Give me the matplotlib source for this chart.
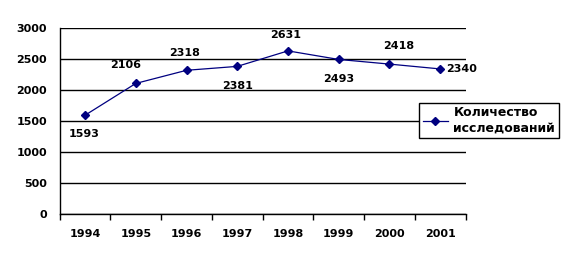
import matplotlib
matplotlib.use("Agg")
import matplotlib.pyplot as plt
from matplotlib.ticker import FixedLocator

years = ["1994", "1995", "1996", "1997", "1998", "1999", "2000", "2001"]
values = [1593, 2106, 2318, 2381, 2631, 2493, 2418, 2340]
series_name = "Количество\nисследований"
yticks = [0, 500, 1000, 1500, 2000, 2500, 3000]

# label offsets in pixels (dx, dy; dy positive = up)
label_offsets = [(-1, -19), (-10, 18), (-2, 17), (0, -20), (-2, 16), (0, -20), (9, 18), (21, 0)]

plt.rcParams['font.family'] = ['DejaVu Sans']
FS = 8

fig = plt.figure(figsize=(5.75, 2.64), dpi=100)
ax = fig.add_axes([0.1038, 0.1894, 0.7058, 0.7045])

x = list(range(len(years)))
line, = ax.plot(x, values, color="#000080", lw=0.9, marker="D", ms=4,
                mfc="#000080", mec="#000080", label=series_name, zorder=3)

for xi, v, (dx, dy) in zip(x, values, label_offsets):
    ax.annotate(str(v), (xi, v), xytext=(dx, dy), textcoords="offset pixels",
                ha="center", va="center", fontsize=FS, fontweight="bold", color="black")

ax.set_xlim(-0.5, len(years) - 0.5)
ax.set_ylim(0, 3000)
ax.set_yticks(yticks)
ax.set_yticklabels([str(t) for t in yticks], fontsize=FS, fontweight="bold")
ax.set_xticks(x)
ax.set_xticklabels(years, fontsize=FS, fontweight="bold")
ax.xaxis.set_minor_locator(FixedLocator([i - 0.5 for i in range(len(years) + 1)]))
ax.tick_params(axis="x", which="major", length=0, pad=11)
ax.tick_params(axis="x", which="minor", length=4, width=1, color="black")
ax.tick_params(axis="y", length=0, pad=9)

ax.grid(axis="y", color="black", lw=1)
ax.set_axisbelow(True)
for s in ["top", "right"]:
    ax.spines[s].set_visible(False)
ax.spines["left"].set_linewidth(1)
ax.spines["bottom"].set_linewidth(1)

leg = fig.legend(handles=[line], loc="center left", bbox_to_anchor=(0.7287, 0.5436),
                 frameon=True, fancybox=False, edgecolor="black", framealpha=1,
                 borderaxespad=0, handlelength=2.0, handletextpad=0.45,
                 borderpad=0.3, prop={"size": 9, "weight": "bold"})
leg.get_frame().set_linewidth(1)

fig.savefig("out.png", dpi=100)
